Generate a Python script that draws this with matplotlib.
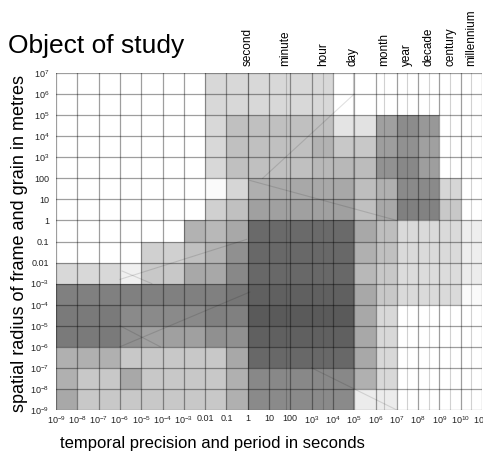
import numpy as np
import matplotlib
matplotlib.use('Agg')
import matplotlib.pyplot as plt
from matplotlib.transforms import blended_transform_factory

plt.rcParams['font.family'] = ['Liberation Sans', 'DejaVu Sans']
plt.rcParams['mathtext.fontset'] = 'custom'
plt.rcParams['mathtext.rm'] = 'Liberation Sans'
plt.rcParams['mathtext.it'] = 'Liberation Sans:italic'
plt.rcParams['mathtext.bf'] = 'Liberation Sans:bold'

# decade edges, log10 of seconds (x) and metres (y)
t_exp = np.arange(-9, 12)
s_exp = np.arange(-9, 8)

# grey level of every decade cell (0 black .. 255 white)
# rows from 10^7 m down to 10^-9 m, columns from 10^-9 s to 10^11 s
shade = [
    [255]*7 + [216]*6 + [255]*7,
    [255]*7 + [216]*6 + [255]*7,
    [255]*7 + [216] + [192]*5 + [228, 226, 160, 140, 152, 255, 255],
    [255]*7 + [216] + [192]*4 + [178, 200, 200, 158, 145, 160, 255, 255],
    [255]*7 + [216] + [192]*4 + [184, 184, 188, 146, 136, 158, 255, 255],
    [255]*7 + [250, 214, 175, 170, 168, 168, 168, 190, 176, 138, 138, 214, 255],
    [255]*7 + [208, 192, 160, 160, 160, 160, 160, 192, 168, 128, 130, 200, 255],
    [255]*6 + [178, 184, 168] + [106]*5 + [168, 190, 218, 218, 218, 238],
    [255]*4 + [208, 208, 192, 178, 144] + [104]*5 + [176, 192, 218, 218, 218, 238],
    [216]*3 + [240, 200, 200, 168, 168, 136] + [104]*5 + [184, 200, 220, 220, 220, 236],
    [128]*8 + [118] + [96]*5 + [168, 200, 218, 218, 218, 250],
    [122]*3 + [138]*4 + [128, 128] + [90]*5 + [168, 216, 255, 255, 255, 255],
    [122]*3 + [144, 160, 160, 160, 144, 144] + [96]*5 + [168, 216, 255, 255, 255, 255],
    [176]*3 + [200]*5 + [168] + [104]*5 + [168, 216, 255, 255, 255, 255],
    [176, 200, 200, 168, 200, 200, 200, 200, 176] + [136]*5 + [176, 216, 255, 255, 255, 255],
    [168] + [200]*7 + [176] + [138]*5 + [236, 236, 255, 255, 255, 255],
]

# edges of the slanted frames, log10 units
diag_t = [(0.7, 5.0), (-6.0, 0.1), (-6.0, -4.1), (-6.0, -0.05), (0.1, 7.0), (3.0, 7.0), (-5.9, -4.5)]
diag_s = [(2.0, 6.0), (-6.0, -3.4), (-5.0, -6.0), (-2.8, -0.9), (1.9, 0.0), (-7.0, -9.0), (-2.4, -3.0)]

units = ['second', 'minute', 'hour', 'day', 'month', 'year', 'decade', 'century', 'millennium']
unit_seconds = [1, 60, 3600, 86400, 2.63e6, 3.156e7, 3.156e8, 3.156e9, 3.156e10]


def lab(e):
    small = {-2: '0.01', -1: '0.1', 0: '1', 1: '10', 2: '100'}
    if e in small:
        return small[e]
    return r'$\mathdefault{10^{%d}}$' % e


fig = plt.figure(figsize=(4.83, 4.54), dpi=100)
ax = fig.add_axes([56/483, 44/454, 426/483, 337/454])

X = 10.0 ** t_exp
Y = 10.0 ** s_exp
C = np.array(shade, dtype=float)[::-1]
ax.pcolormesh(X, Y, C, cmap='gray', vmin=0, vmax=255, shading='flat')
ax.set_xscale('log')
ax.set_yscale('log')
ax.set_xlim(X[0], X[-1])
ax.set_ylim(Y[0], Y[-1])

for dt, ds in zip(diag_t, diag_s):
    ax.plot(10.0 ** np.array(dt), 10.0 ** np.array(ds), color='black', alpha=0.12, lw=0.8)

for v in unit_seconds:
    ax.axvline(v, color='black', alpha=0.18, lw=0.8)
for v in X:
    ax.axvline(v, color='black', alpha=0.38, lw=0.9)
for v in Y:
    ax.axhline(v, color='black', alpha=0.38, lw=0.9)

for s in ax.spines.values():
    s.set_visible(False)

ax.set_xticks(X)
ax.set_xticklabels([lab(e) for e in t_exp])
ax.set_yticks(Y)
ax.set_yticklabels([lab(e) for e in s_exp])
ax.minorticks_off()
ax.tick_params(length=0, labelsize=6.5, colors='#222222')
ax.tick_params(axis='x', pad=3)
ax.tick_params(axis='y', pad=5)

tr = blended_transform_factory(ax.transData, ax.transAxes)
for name, v in zip(units, unit_seconds):
    ax.text(v, 1.02, name, transform=tr, rotation=90, ha='center', va='bottom', fontsize=8.5)

fig.text(8/483, 1 - 53/454, 'Object of study', fontsize=19, va='baseline', ha='left')
fig.text(60/483, 6/454, 'temporal precision and period in seconds', fontsize=12, va='baseline', ha='left')
fig.text(20/483, 1 - 243/454, 'spatial radius of frame and grain in metres', fontsize=13,
         rotation=90, ha='center', va='center')

fig.savefig('out.png', dpi=100)
